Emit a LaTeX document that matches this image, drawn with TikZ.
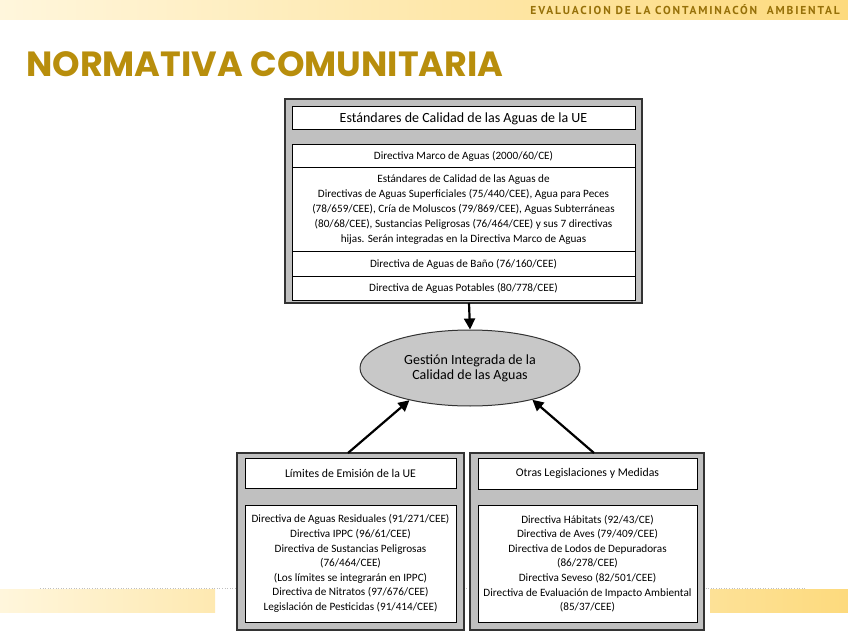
\documentclass[tikz,border=0pt]{standalone}
\usepackage{fontspec}
\setmainfont{Carlito}
\newfontfamily\titlefont{Poppins}
\newfontfamily\bannerfont{PT Sans}[LetterSpace=16]
\usetikzlibrary{shapes.geometric,arrows.meta}
\definecolor{cream}{RGB}{255,246,220}
\definecolor{goldbar}{RGB}{253,218,125}
\definecolor{titlegold}{RGB}{184,142,12}
\definecolor{bannertxt}{RGB}{150,112,8}
\definecolor{boxgray}{RGB}{192,192,192}
\definecolor{ellgray}{RGB}{200,200,200}
\tikzset{
  outerbox/.style={draw=black!80, line width=1.4pt, fill=boxgray, inner sep=0pt},
  innerbox/.style={draw=black, line width=1pt, fill=white, inner sep=0pt, align=center},
  rowtext/.style={font=\fontsize{11.2}{15}\selectfont},
  listtext/.style={font=\fontsize{11.2}{14.6}\selectfont},
  subhead/.style={font=\fontsize{11.8}{14}\selectfont},
  headtext/.style={font=\fontsize{14}{15}\selectfont},
  conn/.style={line width=2.2pt, -{Triangle[length=11pt,width=11pt]}}
}
\begin{document}
\begin{tikzpicture}[x=1pt,y=-1pt]
\useasboundingbox (0,0) rectangle (848,636);
% banner
\shade[left color=cream, right color=goldbar] (0,0) rectangle (848,20);
\node[anchor=east, text=bannertxt, inner sep=0pt] (banner) at (840,10)
  {\bannerfont\bfseries\fontsize{11.5}{12}\selectfont EVALUACION DE LA CONTAMINACÓN\ \ AMBIENTAL};
% title
\node[anchor=west, text=titlegold, inner sep=0pt] (title) at (26,64)
  {\titlefont\bfseries\fontsize{35}{38}\selectfont NORMATIVA COMUNITARIA};
% bottom bars
\shade[left color=cream, right color=goldbar!60] (0,589) rectangle (215,612);
\shade[left color=goldbar!80, right color=goldbar] (710,589) rectangle (848,612);
\draw[black!25, dotted, line width=0.6pt] (40,588) -- (805,588);
% top block
\node[outerbox, minimum width=357pt, minimum height=204pt] (topbox) at (463.5,201) {};
\node[innerbox, headtext, minimum width=343pt, minimum height=23pt] (tophead) at (463.5,118.5)
  {Estándares de Calidad de las Aguas de la UE};
\node[innerbox, rowtext, minimum width=343pt, minimum height=23pt] (row1) at (463.5,156.5)
  {Directiva Marco de Aguas (2000/60/CE)};
\node[innerbox, rowtext, minimum width=343pt, minimum height=84pt] (row2) at (463.5,210)
  {Estándares de Calidad de las Aguas de\\
   Directivas de Aguas Superficiales (75/440/CEE), Agua para Peces\\
   (78/659/CEE), Cría de Moluscos (79/869/CEE), Aguas Subterráneas\\
   (80/68/CEE), Sustancias Peligrosas (76/464/CEE) y sus 7 directivas\\
   hijas. Serán integradas en la Directiva Marco de Aguas};
\node[innerbox, rowtext, minimum width=343pt, minimum height=24pt] (row3) at (463.5,264)
  {Directiva de Aguas de Baño (76/160/CEE)};
\node[innerbox, rowtext, minimum width=343pt, minimum height=24pt] (row4) at (463.5,288)
  {Directiva de Aguas Potables (80/778/CEE)};
% ellipse
\node[ellipse, draw=black!80, line width=1pt, fill=ellgray, minimum width=220pt, minimum height=76pt,
      align=center, headtext, inner sep=0pt] (ell) at (470,368)
  {Gestión Integrada de la\\Calidad de las Aguas};
% bottom left
\node[outerbox, minimum width=227pt, minimum height=177pt] (leftbox) at (350.5,541.5) {};
\node[innerbox, subhead, minimum width=211pt, minimum height=30pt] (lefthead) at (350.5,473)
  {Límites de Emisión de la UE};
\node[innerbox, listtext, minimum width=211pt, minimum height=117pt] (leftlist) at (350.5,563.5)
  {Directiva de Aguas Residuales (91/271/CEE)\\
   Directiva IPPC (96/61/CEE)\\
   Directiva de Sustancias Peligrosas\\
   (76/464/CEE)\\
   (Los límites se integrarán en IPPC)\\
   Directiva de Nitratos (97/676/CEE)\\
   Legislación de Pesticidas (91/414/CEE)};
% bottom right
\node[outerbox, minimum width=234pt, minimum height=177pt] (rightbox) at (587,541.5) {};
\node[innerbox, subhead, minimum width=219pt, minimum height=31pt] (righthead) at (587.5,473.5)
  {Otras Legislaciones y Medidas};
\node[innerbox, listtext, minimum width=219pt, minimum height=117pt] (rightlist) at (587.5,563.5)
  {Directiva Hábitats (92/43/CE)\\
   Directiva de Aves (79/409/CEE)\\
   Directiva de Lodos de Depuradoras\\
   (86/278/CEE)\\
   Directiva Seveso (82/501/CEE)\\
   Directiva de Evaluación de Impacto Ambiental\\
   (85/37/CEE)};
% connectors
\coordinate (ts) at (469,303);
\coordinate (ls) at (348,453);
\coordinate (rs) at (594,453);
\draw[conn] (ts) -- (ell.north);
\draw[conn] (ls) -- (ell.208);
\draw[conn] (rs) -- (ell.333);
\end{tikzpicture}
\end{document}
